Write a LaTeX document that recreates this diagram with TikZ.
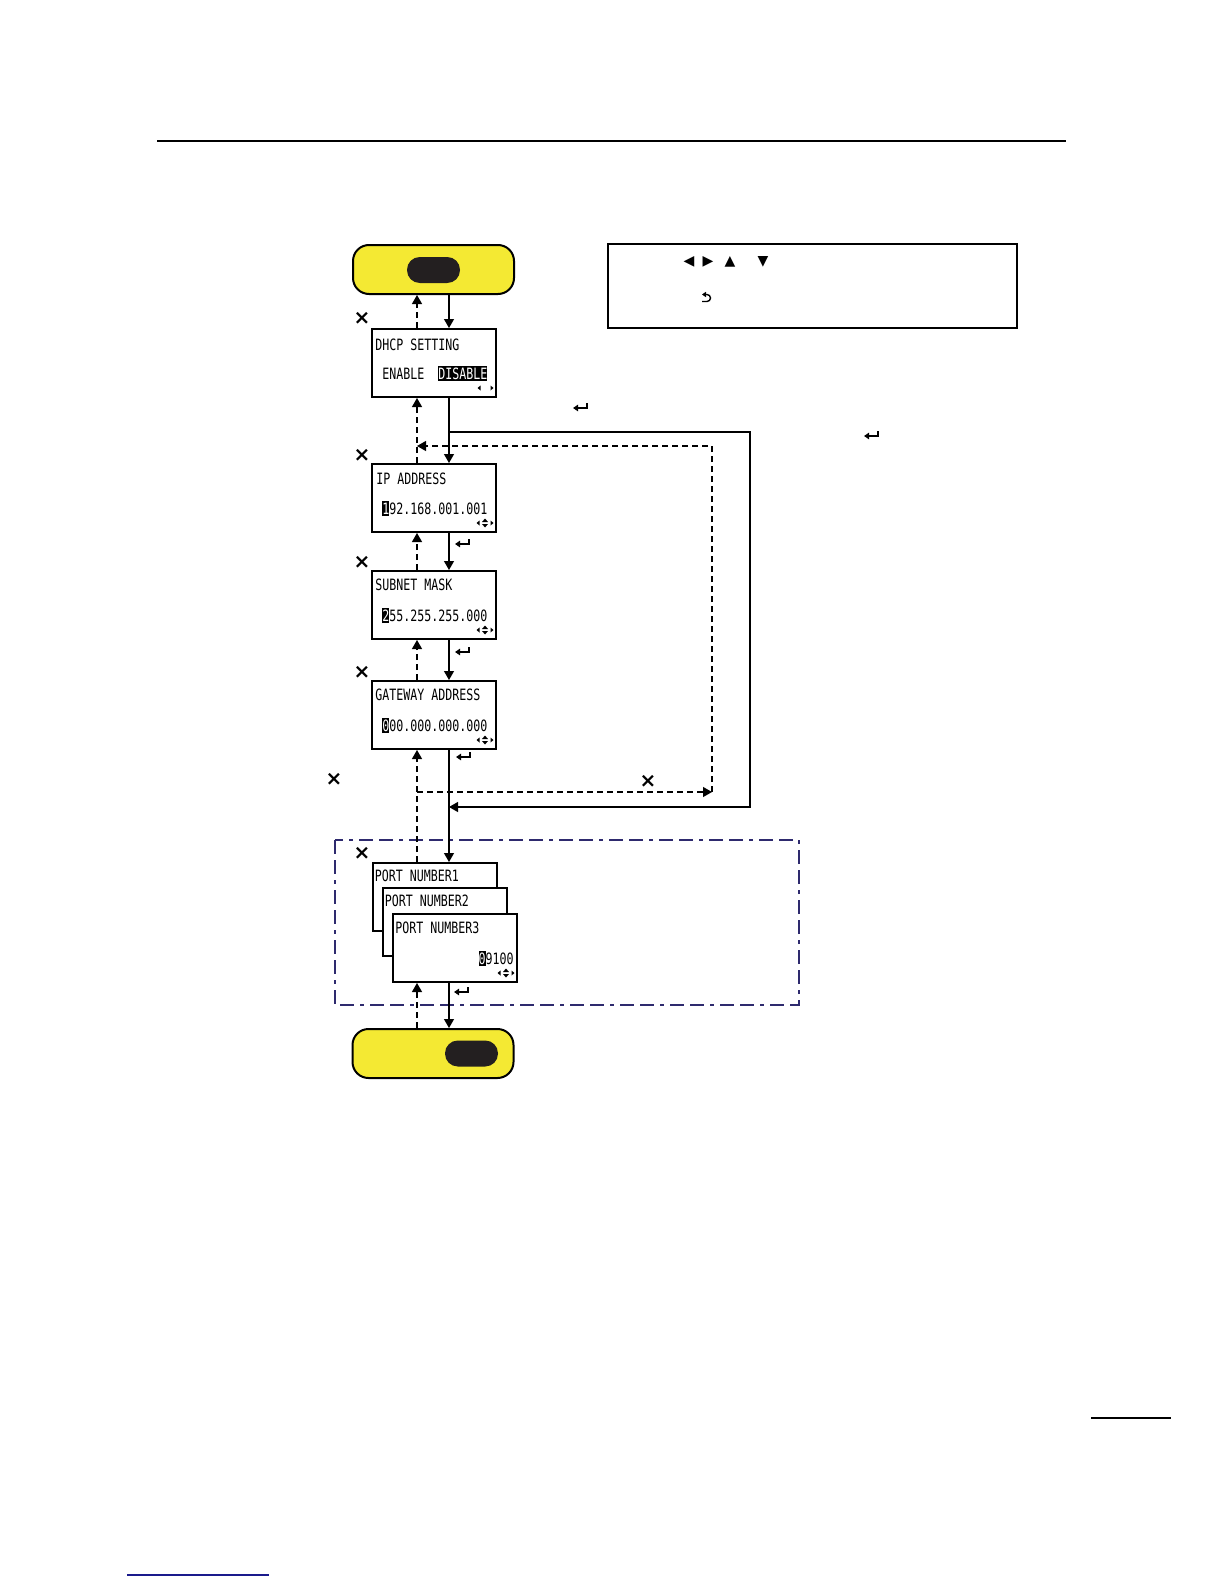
\documentclass[tikz,border=0pt]{standalone}
\usepackage{fontspec}
\usetikzlibrary{arrows.meta,positioning,calc}
\newfontfamily\lcdfont[FakeStretch=0.745]{DejaVu Sans Mono}
\newfontfamily\symfont{DejaVu Sans}
\definecolor{keyyellow}{HTML}{F4E933}
\definecolor{keyblack}{HTML}{231F20}
\definecolor{framenavy}{HTML}{2E2A6E}
\definecolor{linknavy}{HTML}{1A1A8C}
\newcommand{\hlchar}[1]{{\setlength{\fboxsep}{0pt}\colorbox{black}{\rule[-1pt]{0pt}{7.5pt}\textcolor{white}{#1}}}}

\begin{document}
\begin{tikzpicture}[
    x=0.5pt, y=-0.5pt,
    lcd/.style={draw, line width=1pt, fill=white, minimum width=62pt,
      minimum height=34pt, inner sep=0},
    lcdtxt/.style={font=\lcdfont\fontsize{7.8}{8}\selectfont, inner sep=0,
      anchor=base west},
    keybox/.style={draw, line width=1pt, fill=keyyellow, rounded corners=8pt,
      minimum width=80.5pt, minimum height=24.5pt, inner sep=0},
    keypill/.style={fill=keyblack, rounded corners=6.4pt, minimum width=26.5pt,
      minimum height=13pt, inner sep=0},
    fwd/.style={-{Triangle[length=4.5pt,width=5pt]}, line width=0.6pt},
    back/.style={fwd, dash pattern=on 3pt off 2pt},
    xmark/.style={font=\symfont\bfseries\fontsize{10}{10}\selectfont, inner sep=0},
    legsym/.style={font=\symfont\fontsize{7}{7}\selectfont, inner sep=0},
    enterkey/.pic={
      \draw[line width=0.75pt, -{Triangle[length=2.5pt,width=3.2pt]}]
        (7,-5) -- (7,0) -- (-7,0);
    },
    backkey/.pic={
      \draw[line width=0.7pt, {Triangle[length=2pt,width=2.6pt]}-]
        (-5,-3.5) -- (0,-3.5) arc(-90:90:3.5) -- (-5,3.5);
    },
    navlr/.pic={
      \fill (-8,0) -- (-5,-2.5) -- (-5,2.5) -- cycle;
      \fill (8,0) -- (5,-2.5) -- (5,2.5) -- cycle;
    },
    navall/.pic={
      \fill (-8.5,0) -- (-5.5,-2.5) -- (-5.5,2.5) -- cycle;
      \fill (8.5,0) -- (5.5,-2.5) -- (5.5,2.5) -- cycle;
      \fill (0,-4.5) -- (-3,-1) -- (3,-1) -- cycle;
      \fill (0,4.5) -- (-3,1) -- (3,1) -- cycle;
    },
  ]
  \useasboundingbox (0,0) rectangle (1224,1584);

  % Page rules
  \draw[line width=0.8pt] (157,141) -- (1066,141);
  \draw[line width=0.7pt] (1091,1418) -- (1171,1418);
  \draw[linknavy, line width=0.7pt] (127,1575) -- (269,1575);

  % Lanes: forward (solid) and cancel (dashed)
  \coordinate (laneD) at (449,0);
  \coordinate (laneU) at (417,0);

  % Legend
  \node[draw, line width=1pt, minimum width=204.5pt, minimum height=42pt,
        inner sep=0] (legend) at (812.5,286) {};
  \foreach \g/\x in {◀/689, ▶/708, ▲/730, ▼/763} {
    \node[legsym] (sym\x) at (\x,262) {\g};
  }
  \pic at (707,298) {backkey};

  % Port group frame
  \draw[framenavy, line width=1pt,
        dash pattern=on 7pt off 3pt on 7pt off 3pt on 2pt off 3pt]
    (335,840) rectangle (799,1005);

  % Start key
  \node[keybox] (start) at (433.5,269.5) {};
  \node[keypill] (startkey) at (433.5,270) {};

  % LCD screens
  \node[lcd] (dhcp) at (434,363) {};
  \node[lcdtxt] (dhcpT) at ([shift={(4,22)}]dhcp.north west) {DHCP SETTING};
  \node[lcdtxt] (dhcpA) at ([shift={(11,51)}]dhcp.north west) {ENABLE};
  \node[lcdtxt] (dhcpB) at ([shift={(67,51)}]dhcp.north west)
    {\hlchar{DISABLE}};
  \pic at ([shift={(-11.5,60)}]dhcp.north east) {navlr};

  \node[lcd] (ip) at (434,498) {};
  \node[lcdtxt] (ipT) at ([shift={(5,21)}]ip.north west) {IP ADDRESS};
  \node[lcdtxt] (ipV) at ([shift={(11,51)}]ip.north west)
    {\hlchar{1}92.168.001.001};
  \pic at ([shift={(-12,60)}]ip.north east) {navall};

  \node[lcd] (mask) at (434,605) {};
  \node[lcdtxt] (maskT) at ([shift={(4,20)}]mask.north west) {SUBNET MASK};
  \node[lcdtxt] (maskV) at ([shift={(11,51)}]mask.north west)
    {\hlchar{2}55.255.255.000};
  \pic at ([shift={(-12,60)}]mask.north east) {navall};

  \node[lcd] (gw) at (434,715) {};
  \node[lcdtxt] (gwT) at ([shift={(4,20)}]gw.north west) {GATEWAY ADDRESS};
  \node[lcdtxt] (gwV) at ([shift={(11,51)}]gw.north west)
    {\hlchar{0}00.000.000.000};
  \pic at ([shift={(-12,60)}]gw.north east) {navall};

  % Stacked port screens
  \node[lcd] (port1) at (434.5,897) {};
  \node[lcdtxt] (port1T) at ([shift={(3,19)}]port1.north west) {PORT NUMBER1};
  \node[lcd] (port2) at (444.5,922) {};
  \node[lcdtxt] (port2T) at ([shift={(3,19)}]port2.north west) {PORT NUMBER2};
  \node[lcd] (port3) at (455,948) {};
  \node[lcdtxt] (port3T) at ([shift={(3,20)}]port3.north west) {PORT NUMBER3};
  \node[lcdtxt, anchor=base east] (port3V) at ([shift={(-4,51)}]port3.north east)
    {\hlchar{0}9100};
  \pic at ([shift={(-12,60)}]port3.north east) {navall};

  % End key
  \node[keybox] (finish) at (433,1053.5) {};
  \node[keypill] (finishkey) at (471.5,1053.5) {};

  % Forward and cancel connectors
  \draw[fwd] (start.south -| laneD) -- (dhcp.north -| laneD);
  \draw[back] (dhcp.north -| laneU) -- (start.south -| laneU);
  \draw[fwd] (dhcp.south -| laneD) -- (ip.north -| laneD);
  \draw[back] (ip.north -| laneU) -- (dhcp.south -| laneU);
  \draw[fwd] (ip.south -| laneD) -- (mask.north -| laneD);
  \draw[back] (mask.north -| laneU) -- (ip.south -| laneU);
  \draw[fwd] (mask.south -| laneD) -- (gw.north -| laneD);
  \draw[back] (gw.north -| laneU) -- (mask.south -| laneU);
  \draw[fwd] (gw.south -| laneD) -- (port1.north -| laneD);
  \draw[back] (port1.north -| laneU) -- (gw.south -| laneU);
  \draw[fwd] (port3.south -| laneD) -- (finish.north -| laneD);
  \draw[back] (finish.north -| laneU) -- (port3.south -| laneU);

  % Skip loop (DISABLE -> ports)
  \coordinate (skipS) at (449,432);
  \coordinate (skipE) at (449,807);
  \draw[fwd] (skipS) -| (750,807) -- (skipE);

  % Cancel loop (ports -> IP ADDRESS)
  \coordinate (canL) at (417,792);
  \coordinate (canR) at (712,792);
  \coordinate (canT) at (417,446);
  \draw[back] (canL) -- (canR);
  \draw[back] (canR) |- (canT);

  % Cancel marks
  \foreach \p [count=\i] in {(362,318),(362,455),(362,562),(362,672),
                             (334,779),(648,781),(362,853)} {
    \node[xmark] (cancel\i) at \p {×};
  }

  % Enter marks
  \foreach \p in {(580,408),(871,436),(462,544),(462,652),(463,757),(461,992)} {
    \pic at \p {enterkey};
  }

\end{tikzpicture}
\end{document}
